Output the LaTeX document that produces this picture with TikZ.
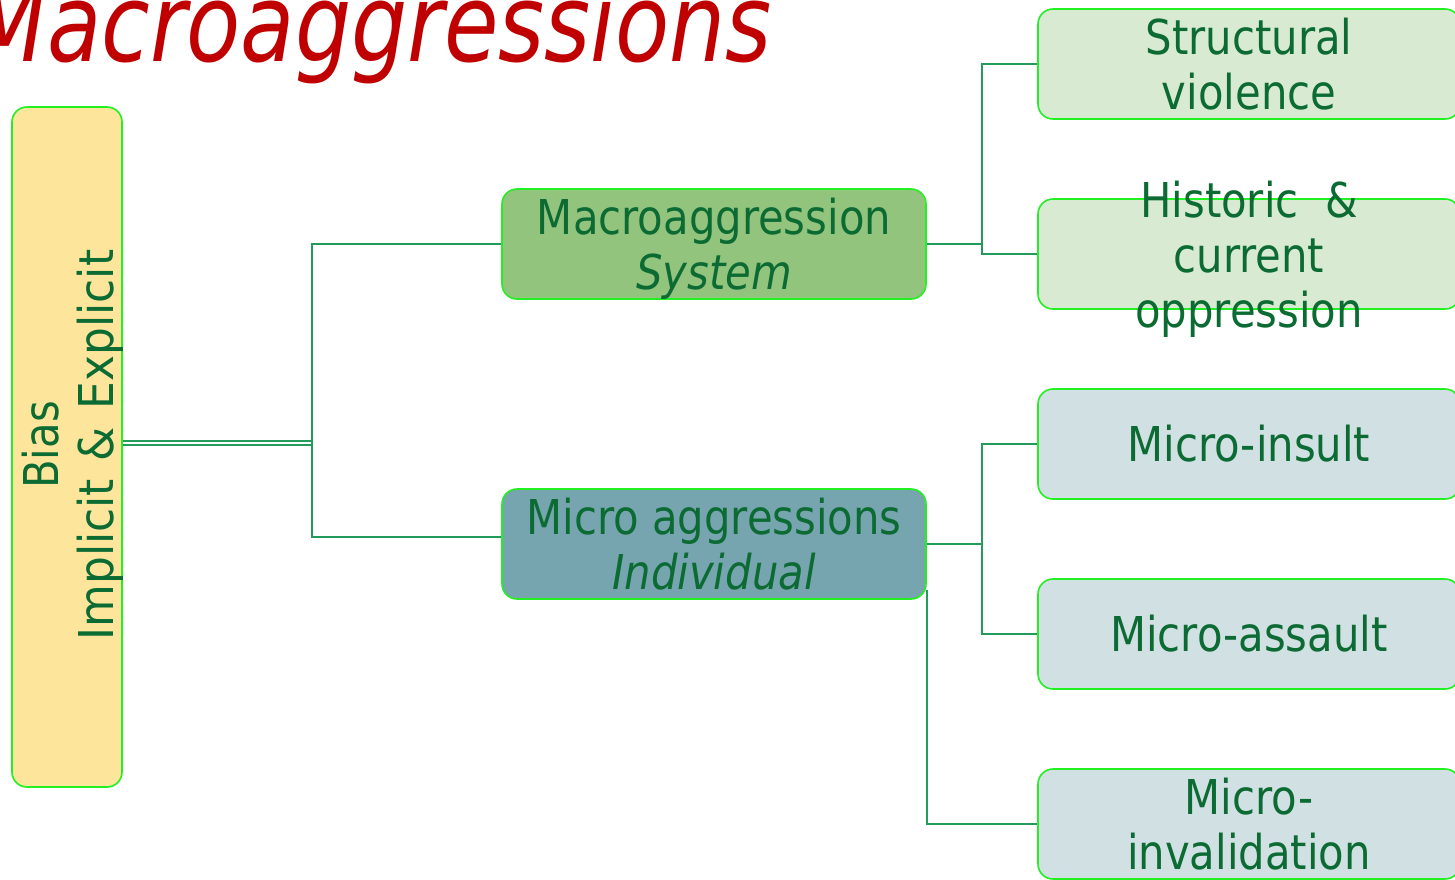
\documentclass[tikz,border=0pt]{standalone}
\usepackage{fontspec}
\setmainfont{DejaVu Sans}[FakeStretch=0.87]
\newfontfamily\titlefont{DejaVu Sans}[FakeStretch=0.82]
\definecolor{txtgreen}{HTML}{0B6B33}
\definecolor{bordergreen}{HTML}{22F022}
\definecolor{conngreen}{HTML}{239B5A}
\definecolor{titlered}{HTML}{C00000}
\definecolor{biasfill}{HTML}{FDE59B}
\definecolor{macrofill}{HTML}{93C47D}
\definecolor{microfill}{HTML}{76A5AF}
\definecolor{lightgreenfill}{HTML}{D9EAD3}
\definecolor{lightbluefill}{HTML}{D0E0E3}
\newcommand\nodepth[1]{\raisebox{0pt}[\height][0pt]{#1}}
\begin{document}
\begin{tikzpicture}[x=1pt,y=-1pt,
  box/.style={draw=bordergreen, line width=1.6pt, rounded corners=15pt, inner sep=0pt,
    text=txtgreen, font=\fontsize{48}{55}\selectfont, align=center},
  rightbox/.style={box, minimum width=422pt, minimum height=110pt},
  midbox/.style={box, minimum width=424pt, minimum height=110pt},
  lbl/.style={text=txtgreen, font=\fontsize{48}{55}\selectfont, align=center, inner sep=0pt},
  conn/.style={draw=conngreen, line width=1.5pt},
  dbl/.style={draw=conngreen, line width=1.4pt, double=white, double distance=2.6pt}]
\useasboundingbox (0,0) rectangle (1455,879);
\fill[white] (0,0) rectangle (1455,879);

% title
\node[anchor=base east, inner sep=0pt, text=titlered,
  font=\titlefont\itshape\fontsize{108}{114}\selectfont] (title) at (772,61) {Macroaggressions};

% boxes
\node[box, fill=biasfill, minimum width=110pt, minimum height=680pt] (bias) at (67,447) {};
\node[lbl, rotate=90] (biaslabel) at (73,445) {Bias\\\scalebox{1.05}[1]{Implicit\hspace{17pt}\&\hspace{17pt}Explicit}};

\node[midbox, fill=macrofill] (macro) at (714,244) {Macroaggression\\\nodepth{\itshape System}};
\node[midbox, fill=microfill] (micro) at (714,544) {Micro aggressions\\{\itshape Individual}};

\node[rightbox, fill=lightgreenfill] (sv) at (1249,64) {Structural\\violence};
\node[rightbox, fill=lightgreenfill] (hist) at (1249,254) {};
\node[lbl] (histlabel) at (hist.center) {Historic~~\&\\current\\\nodepth{oppression}};
\node[rightbox, fill=lightbluefill] (mins) at (1249,444) {Micro-insult};
\node[rightbox, fill=lightbluefill] (mass) at (1249,634) {Micro-assault};
\node[rightbox, fill=lightbluefill] (minv) at (1249,824) {Micro-\\invalidation};

% connectors
\coordinate (t1) at (312,244);
\coordinate (t2) at (312,537);
\draw[dbl] ([yshift=4pt]bias.east) -- ([yshift=4pt]bias.east -| t1);
\draw[conn] (macro.west) -- (t1) -- (t2) -- (t2 -| micro.west);

\coordinate (r1) at (982,64);
\coordinate (r2) at (982,254);
\draw[conn] (macro.east) -- (macro.east -| r1);
\draw[conn] (sv.west) -- (r1) -- (r2) -- (hist.west);

\coordinate (r3) at (982,444);
\coordinate (r4) at (982,634);
\draw[conn] (micro.east) -- (micro.east -| r3);
\draw[conn] (mins.west) -- (r3) -- (r4) -- (mass.west);

\draw[conn] ([yshift=-46pt]micro.east) |- (minv.west);
\end{tikzpicture}
\end{document}
